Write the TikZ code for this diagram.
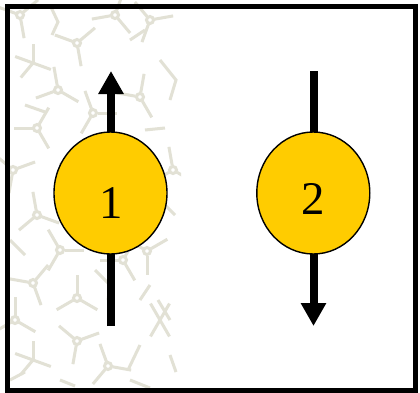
\documentclass[tikz,border=0pt]{standalone}
\usepackage{fontspec}
\setmainfont{Liberation Serif}
\usetikzlibrary{arrows.meta,shapes.geometric}
\definecolor{texc}{RGB}{226,225,213}
\definecolor{ballc}{RGB}{255,204,0}
\tikzset{
  tex/.style={draw=texc, line width=3bp, line cap=butt},
  ball/.style={ellipse, draw=black, line width=1.4bp, fill=ballc, minimum width=113bp, minimum height=122bp, inner sep=0pt},
  numlab/.style={font=\fontsize{47}{47}\selectfont, inner sep=0pt},
  spin/.style={line width=8bp, draw=black, -{Triangle[width=24bp,length=23bp]}}
}
\newcommand\junc[5]{%
  \draw[tex] (#1,#2) circle (3.5);
  \foreach \a in {#3,#4,#5} \draw[tex] (#1,#2) ++(\a:4.5) -- ++(\a:19);}
\newcommand\starj[6]{%
  \foreach \a in {#3,#4,#5,#6} \draw[tex] (#1,#2) -- ++(\a:19);}
\begin{document}
\begin{tikzpicture}[x=1bp,y=-1bp]
\useasboundingbox (0,0) rectangle (420,393);
\fill[white] (0,0) rectangle (420,393);
\begin{scope}
\clip (0,0) rectangle (181,393);
\junc{77}{43}{200}{320}{80}
\starj{33}{63}{270}{20}{130}{200}
\junc{58}{90}{160}{30}{260}
\junc{37}{128}{180}{300}{60}
\junc{140}{97}{190}{280}{60}
\junc{13}{170}{100}{220}{340}
\junc{173}{170}{150}{260}{30}
\junc{93}{113}{250}{120}{0}
\junc{37}{215}{20}{140}{260}
\junc{33}{283}{70}{190}{310}
\junc{77}{298}{150}{270}{30}
\junc{147}{251}{90}{210}{330}
\junc{77}{341}{220}{340}{100}
\starj{33}{360}{270}{20}{130}{200}
\junc{108}{366}{250}{130}{10}
\junc{123}{260}{60}{180}{300}
\junc{150}{20}{230}{110}{350}
\starj{160}{320}{240}{120}{300}{60}
\junc{60}{250}{0}{120}{240}
\junc{15}{320}{30}{150}{270}
\junc{115}{15}{170}{290}{50}
\junc{20}{15}{80}{200}{320}
\draw[tex] (50,5) -- (58,22) -- (52,35);
\draw[tex] (100,150) -- (115,140) -- (130,145);
\draw[tex] (130,40) -- (145,30);
\draw[tex] (160,60) -- (176,80) -- (170,100);
\draw[tex] (25,105) -- (45,112);
\draw[tex] (145,130) -- (165,128);
\draw[tex] (158,300) -- (170,320);
\draw[tex] (140,345) -- (128,370);
\draw[tex] (130,380) -- (150,388);
\draw[tex] (10,240) -- (25,255);
\draw[tex] (95,270) -- (110,285) -- (108,300);
\draw[tex] (160,200) -- (175,215);
\draw[tex] (120,170) -- (140,180);
\draw[tex] (75,150) -- (60,165);
\draw[tex] (10,380) -- (25,372);
\draw[tex] (60,380) -- (75,386);
\draw[tex] (170,355) -- (176,372);
\draw[tex] (140,300) -- (150,285);
\end{scope}
\coordinate (t1) at (111,71);
\coordinate (b1) at (111,326);
\coordinate (t2) at (313.5,71);
\coordinate (b2) at (313.5,326);
\draw[spin] (b1) -- (t1);
\draw[spin] (t2) -- (b2);
\node[ball] (c1) at (110.5,193) {};
\node[ball] (c2) at (313.3,193) {};
\node[numlab] (l1) at (111,203) {1};
\node[numlab] (l2) at (313.3,198.5) {2};
\draw[line width=5bp] (7.5,6.5) rectangle (415.5,390.5);
\end{tikzpicture}
\end{document}
